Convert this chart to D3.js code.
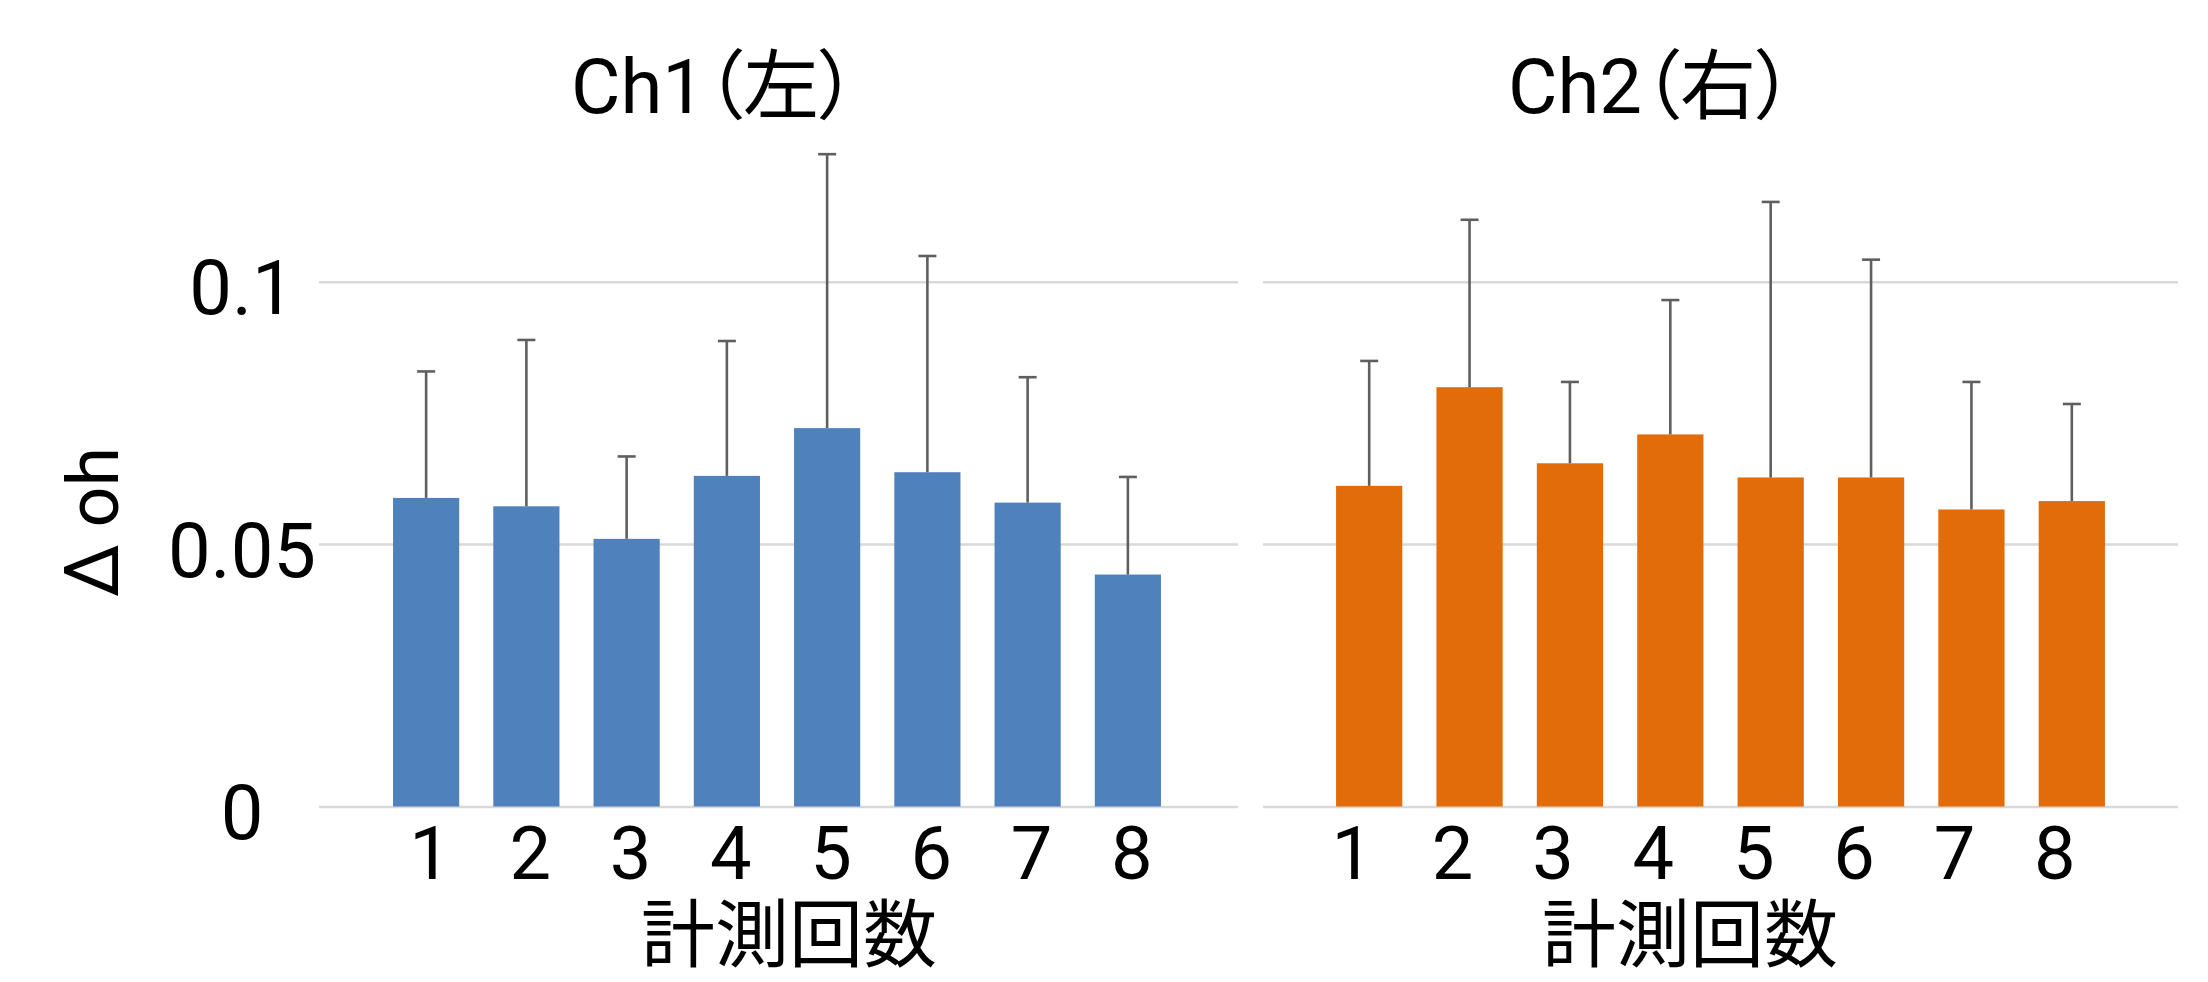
<!DOCTYPE html>
<html>
<head>
<meta charset="utf-8">
<script src="https://cdn.jsdelivr.net/npm/d3@7"></script>
<style>
  html, body { margin: 0; padding: 0; background: #ffffff; }
  svg { display: block; }
  text { font-family: Roboto, "Noto Sans CJK JP", sans-serif; fill: #000; font-feature-settings: "palt"; }
</style>
</head>
<body>
<svg id="chart" width="2208" height="982"></svg>
<script>
// ---- data ----
const categories = ["1", "2", "3", "4", "5", "6", "7", "8"];
const ch1Means  = [0.0588, 0.0572, 0.0510, 0.0630, 0.0721, 0.0637, 0.0579, 0.0442];
const ch1Errors = [0.0241, 0.0317, 0.0157, 0.0257, 0.0522, 0.0412, 0.0239, 0.0186];
const ch2Means  = [0.0611, 0.0799, 0.0654, 0.0709, 0.0627, 0.0627, 0.0566, 0.0582];
const ch2Errors = [0.0238, 0.0319, 0.0155, 0.0256, 0.0525, 0.0415, 0.0243, 0.0185];
const yTicks = [0, 0.05, 0.1];
const yTickLabels = ["0", "0.05", "0.1"];
const panelTitles = ["Ch1（左）", "Ch2（右）"];
const xTitle = "計測回数";
const yTitleParts = ["Δ", "oh"];

// ---- layout ----
const svg = d3.select("#chart");
const y = d3.scaleLinear().domain([0, 0.1]).range([806.5, 281.7]);

const panels = [
  { means: ch1Means, errors: ch1Errors, color: "#4F81BD", grid: [319, 1238], band: [376, 1178],
    title: panelTitles[0], titleX: 714, xTitleX: 789, labelDx: 4, showY: true },
  { means: ch2Means, errors: ch2Errors, color: "#E36C0A", grid: [1263, 2178], band: [1319, 2122],
    title: panelTitles[1], titleX: 1651, xTitleX: 1690, labelDx: -17, showY: false }
];

panels.forEach(p => {
  const g = svg.append("g");
  const x = d3.scaleBand().domain(categories).range(p.band).paddingInner(0.34).paddingOuter(0.17);

  // gridlines (y axis)
  const yAxis = d3.axisLeft(y).tickValues(yTicks)
    .tickSize(-(p.grid[1] - p.grid[0]))
    .tickFormat((d, i) => yTickLabels[i]);
  const ya = g.append("g").attr("transform", `translate(${p.grid[0]},0)`).call(yAxis);
  ya.select(".domain").remove();
  ya.selectAll(".tick line").attr("stroke", "#d9d9d9").attr("stroke-width", 2.5);
  if (p.showY) {
    ya.selectAll(".tick text")
      .attr("x", 242 - p.grid[0]).attr("dy", null).attr("y", 32)
      .attr("text-anchor", "middle")
      .style("font-size", "76px");
  } else {
    ya.selectAll(".tick text").remove();
  }

  // bars
  g.selectAll("rect.bar").data(categories).enter().append("rect")
    .attr("class", "bar")
    .attr("x", d => x(d))
    .attr("width", x.bandwidth())
    .attr("y", (d, i) => y(p.means[i]))
    .attr("height", (d, i) => y(0) - y(p.means[i]))
    .attr("fill", p.color);

  // error bars (upper only)
  const capW = 18;
  const eb = g.selectAll("g.err").data(categories).enter().append("g").attr("class", "err");
  eb.append("line")
    .attr("x1", d => x(d) + x.bandwidth() / 2)
    .attr("x2", d => x(d) + x.bandwidth() / 2)
    .attr("y1", (d, i) => y(p.means[i]))
    .attr("y2", (d, i) => y(p.means[i] + p.errors[i]))
    .attr("stroke", "#5f5f5f").attr("stroke-width", 2.6);
  eb.append("line")
    .attr("x1", d => x(d) + x.bandwidth() / 2 - capW / 2)
    .attr("x2", d => x(d) + x.bandwidth() / 2 + capW / 2)
    .attr("y1", (d, i) => y(p.means[i] + p.errors[i]))
    .attr("y2", (d, i) => y(p.means[i] + p.errors[i]))
    .attr("stroke", "#5f5f5f").attr("stroke-width", 2.6);

  // x axis labels
  const xAxis = d3.axisBottom(x).tickSize(0).tickPadding(0);
  const xa = g.append("g").attr("transform", `translate(0,${y(0)})`).call(xAxis);
  xa.select(".domain").remove();
  xa.selectAll(".tick text")
    .attr("y", 72).attr("dy", null).attr("dx", p.labelDx)
    .style("font-size", "74px");

  // panel title
  g.append("text")
    .attr("x", p.titleX).attr("y", 113)
    .attr("text-anchor", "middle")
    .style("font-size", "76px")
    .text(p.title);

  // x axis title
  g.append("text")
    .attr("x", p.xTitleX).attr("y", 961)
    .attr("text-anchor", "middle")
    .style("font-size", "74px")
    .text(xTitle);
});

// y axis title
const yt = svg.append("text")
  .attr("transform", "translate(118,522) rotate(-90)")
  .attr("text-anchor", "middle")
  .style("font-size", "72px");
yt.append("tspan").style("font-size", "76px").text(yTitleParts[0]);
yt.append("tspan").attr("dx", 16).text(yTitleParts[1]);
</script>
</body>
</html>
